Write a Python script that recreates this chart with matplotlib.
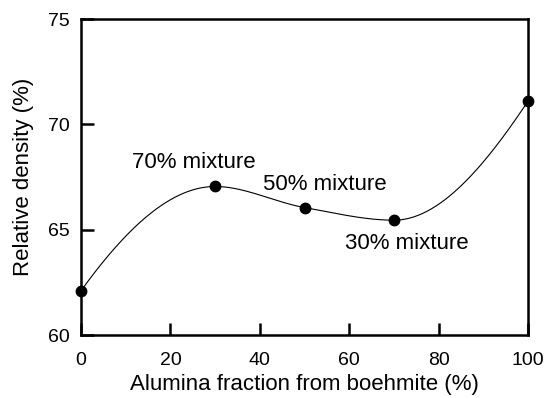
import numpy as np
import matplotlib.pyplot as plt

plt.rcParams['font.family'] = ['Liberation Sans', 'DejaVu Sans']

fraction = [0, 30, 50, 70, 100]
density = [62.1, 67.05, 66.05, 65.45, 71.1]
labels = ["70% mixture", "50% mixture", "30% mixture"]
label_pos = [(25.2, 67.95), (54.5, 66.9), (72.9, 64.06)]


def pchip(x, y, xs):
    # shape-preserving cubic through the points
    x = np.asarray(x, float)
    y = np.asarray(y, float)
    h = np.diff(x)
    d = np.diff(y) / h
    n = len(x)
    m = np.zeros(n)
    for k in range(1, n - 1):
        if d[k - 1] * d[k] > 0:
            w1 = 2 * h[k] + h[k - 1]
            w2 = h[k] + 2 * h[k - 1]
            m[k] = (w1 + w2) / (w1 / d[k - 1] + w2 / d[k])
    m[0] = ((2 * h[0] + h[1]) * d[0] - h[0] * d[1]) / (h[0] + h[1])
    m[-1] = ((2 * h[-1] + h[-2]) * d[-1] - h[-1] * d[-2]) / (h[-1] + h[-2])
    idx = np.clip(np.searchsorted(x, xs) - 1, 0, n - 2)
    t = (xs - x[idx]) / h[idx]
    h00 = 2 * t**3 - 3 * t**2 + 1
    h10 = t**3 - 2 * t**2 + t
    h01 = -2 * t**3 + 3 * t**2
    h11 = t**3 - t**2
    return (h00 * y[idx] + h10 * h[idx] * m[idx]
            + h01 * y[idx + 1] + h11 * h[idx] * m[idx + 1])


xs = np.linspace(0, 100, 400)
ys = pchip(fraction, density, xs)

fig = plt.figure(figsize=(5.48, 3.98), dpi=100)
ax = fig.add_axes([81 / 548, 63 / 398, 447 / 548, 316 / 398])
ax.plot(xs, ys, color='black', linewidth=0.8)
ax.plot(fraction, density, 'o', color='black', markersize=7.5, clip_on=False, zorder=5)
for txt, (lx, ly) in zip(labels, label_pos):
    ax.text(lx, ly, txt, fontsize=16, ha='center', va='baseline')

ax.set_xlim(0, 100)
ax.set_ylim(60, 75)
ax.set_xticks([0, 20, 40, 60, 80, 100])
ax.set_yticks([60, 65, 70, 75])
ax.tick_params(direction='in', length=9, width=1.8, labelsize=14)
ax.tick_params(axis='x', pad=12)
ax.tick_params(axis='y', pad=8)
for s in ax.spines.values():
    s.set_linewidth(1.8)
ax.set_xlabel("Alumina fraction from boehmite (%)", fontsize=16, labelpad=4)
ax.set_ylabel("Relative density (%)", fontsize=16, labelpad=10)

fig.savefig("out.png", dpi=100)
